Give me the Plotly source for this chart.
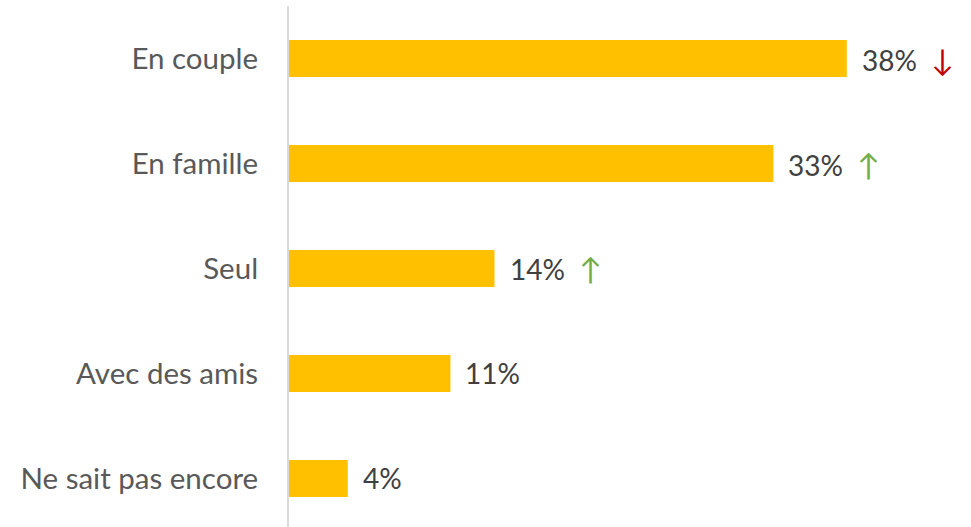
import plotly.graph_objects as go

categories = ["En couple", "En famille", "Seul", "Avec des amis", "Ne sait pas encore"]
values = [38, 33, 14, 11, 4]
trends = ["down", "up", "up", "", ""]

arrow_glyph = {"up": "↑", "down": "↓", "": ""}
arrow_color = {"up": "#70AD47", "down": "#C00000", "": "#404040"}

font_family = "Lato, Open Sans, sans-serif"

fig = go.Figure()

fig.add_trace(
    go.Bar(
        x=values,
        y=categories,
        orientation="h",
        marker=dict(color="#FFC000", line=dict(width=0)),
        hoverinfo="skip",
    )
)

for cat, val, trend in zip(categories, values, trends):
    label = f"{val}%"
    if trend:
        label += f"  <span style='color:{arrow_color[trend]};font-size:30px'>{arrow_glyph[trend]}</span>"
    fig.add_annotation(
        x=val,
        y=cat,
        text=label,
        showarrow=False,
        xanchor="left",
        xshift=13,
        font=dict(family=font_family, size=28, color="#404040"),
    )

fig.update_layout(
    width=971,
    height=527,
    margin=dict(l=289, r=0, t=6, b=0, autoexpand=False),
    plot_bgcolor="white",
    paper_bgcolor="white",
    bargap=0.648,
    showlegend=False,
    xaxis=dict(
        range=[0, 46.46],
        visible=False,
        fixedrange=True,
        automargin=False,
    ),
    yaxis=dict(
        type="category",
        range=[4.462, -0.5],
        showgrid=False,
        showline=True,
        linecolor="#D9D9D9",
        linewidth=2,
        ticks="",
        ticklabelstandoff=23,
        automargin=False,
        tickfont=dict(family=font_family, size=29.5, color="#595959"),
        fixedrange=True,
    ),
)

fig.write_html(
    "out.html",
    config={"displayModeBar": False},
    post_script="document.body.style.margin='0';",
)
